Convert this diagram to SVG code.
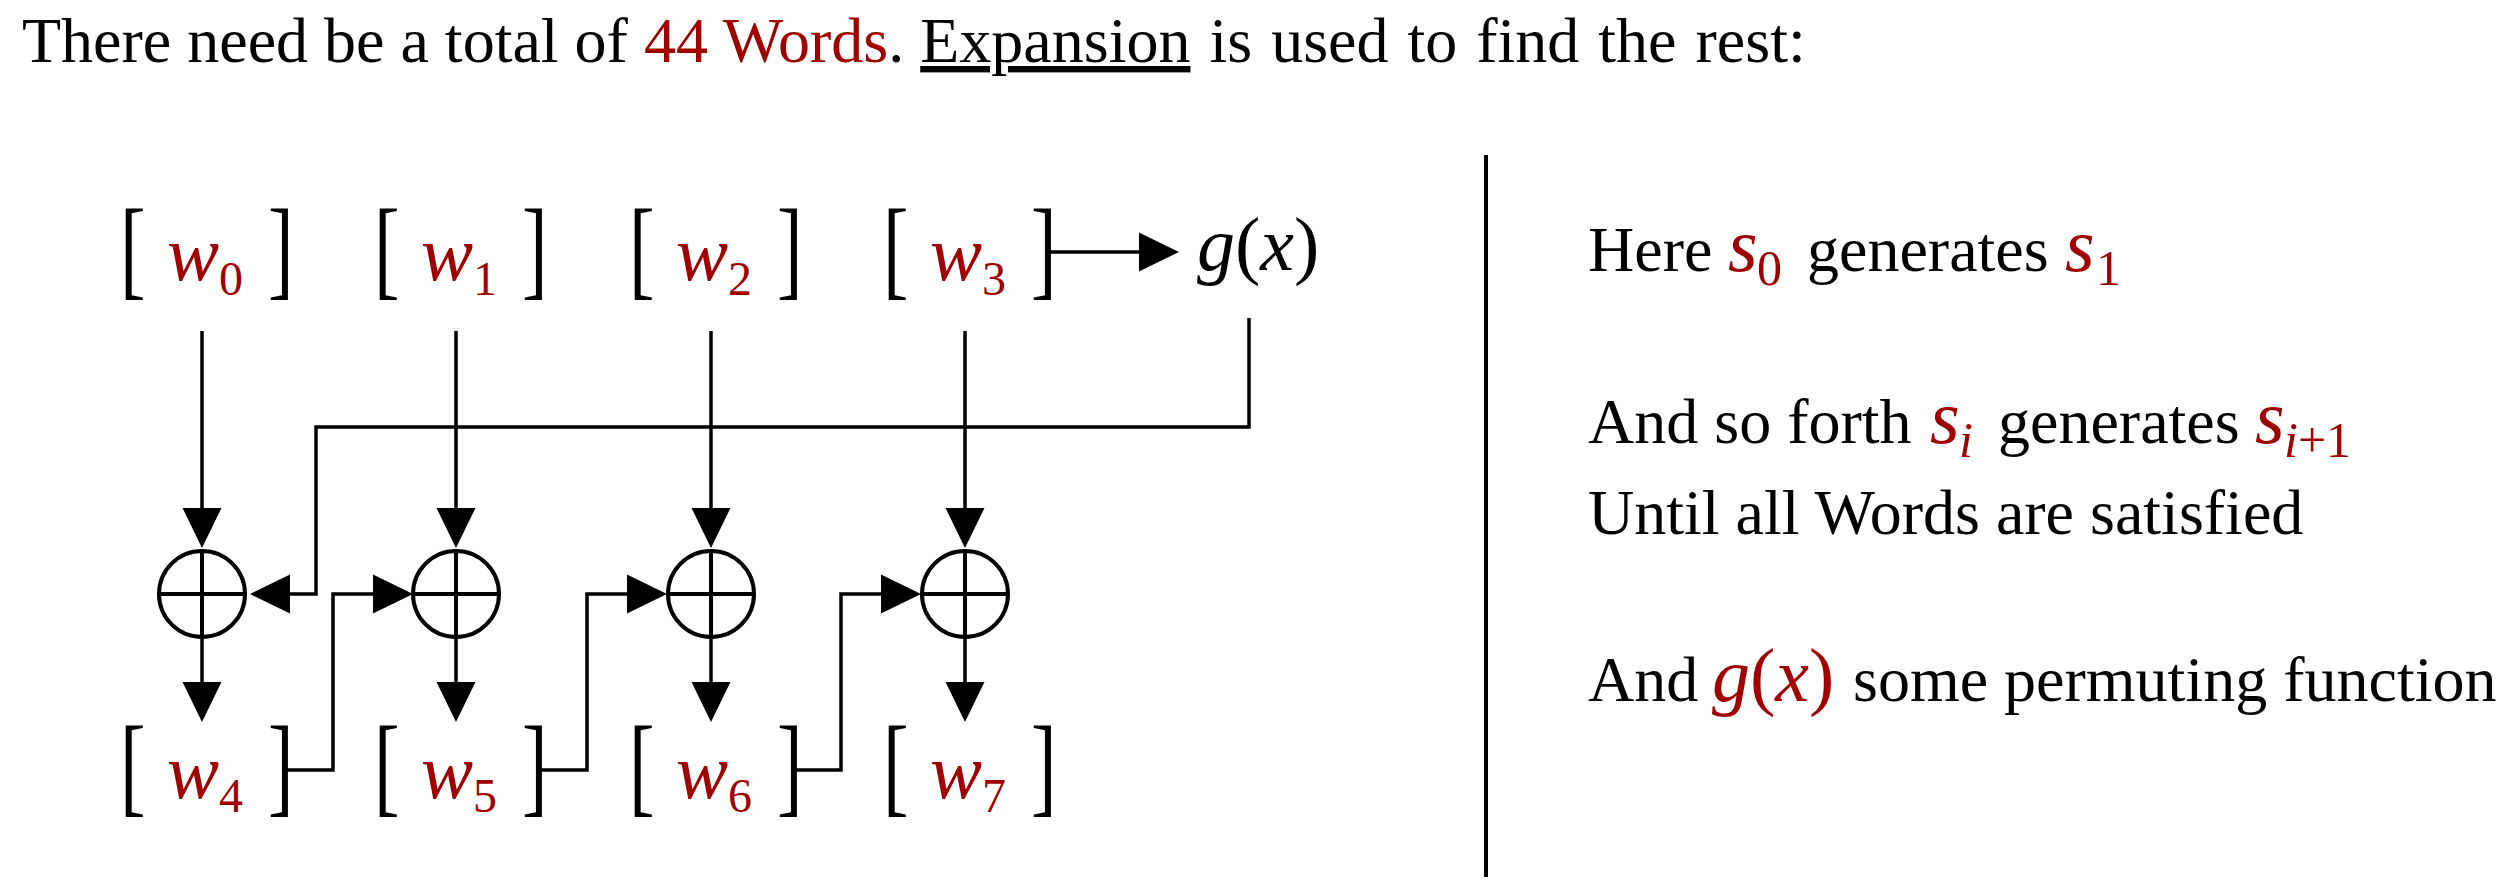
<svg xmlns="http://www.w3.org/2000/svg" width="2510" height="894" viewBox="0 0 2510 894">
<defs>
<style>
.t{font-family:"Liberation Serif",serif;font-size:64px;fill:#000}
.m{font-family:"Liberation Serif",serif;font-style:italic;font-size:76px}
.red{fill:#a00000}
.br{font-family:"Liberation Serif",serif;font-size:110px;fill:#000}
.w{font-family:"Liberation Serif",serif;font-style:italic;font-size:78px;fill:#a00000}
.sub{font-style:normal;font-size:48px}
.sb{font-size:50px}
.ln{fill:none;stroke:#000;stroke-width:3.5}
.xor{fill:none;stroke:#000;stroke-width:4}
</style>
<marker id="ah" markerUnits="userSpaceOnUse" markerWidth="40" markerHeight="40" viewBox="0 0 38 37" refX="0" refY="18.5" orient="auto">
<path d="M0,0 L38,18.5 L0,37 z" fill="#000"/>
</marker>
</defs>
<rect width="2510" height="894" fill="#fff"/>

<g id="title">
<text class="t" x="22" y="62">There need be a total of <tspan class="red">44 Words</tspan>. <tspan text-decoration="underline">Expansion</tspan><tspan word-spacing="3"> is used to find the rest:</tspan></text>
</g>

<g id="w0"><text class="br" transform="translate(120,285) scale(0.7,1)">[</text><text class="w" x="167" y="280">w<tspan class="sub" x="219" y="295">0</tspan></text><text class="br" transform="translate(268,285) scale(0.7,1)">]</text></g>
<g id="w1"><text class="br" transform="translate(374,285) scale(0.7,1)">[</text><text class="w" x="421" y="280">w<tspan class="sub" x="473" y="295">1</tspan></text><text class="br" transform="translate(522,285) scale(0.7,1)">]</text></g>
<g id="w2"><text class="br" transform="translate(629,285) scale(0.7,1)">[</text><text class="w" x="676" y="280">w<tspan class="sub" x="728" y="295">2</tspan></text><text class="br" transform="translate(777,285) scale(0.7,1)">]</text></g>
<g id="w3"><text class="br" transform="translate(883,285) scale(0.7,1)">[</text><text class="w" x="930" y="280">w<tspan class="sub" x="982" y="295">3</tspan></text><text class="br" transform="translate(1031,285) scale(0.7,1)">]</text></g>
<g id="gx"><text class="m" x="1197" y="270">g<tspan font-style="normal">(</tspan>x<tspan font-style="normal">)</tspan></text></g>

<g id="xor0"><circle class="xor" cx="202" cy="594" r="43"/><path class="xor" d="M202,551 V637 M159,594 H245"/></g>
<g id="xor1"><circle class="xor" cx="456" cy="594" r="43"/><path class="xor" d="M456,551 V637 M413,594 H499"/></g>
<g id="xor2"><circle class="xor" cx="711" cy="594" r="43"/><path class="xor" d="M711,551 V637 M668,594 H754"/></g>
<g id="xor3"><circle class="xor" cx="965" cy="594" r="43"/><path class="xor" d="M965,551 V637 M922,594 H1008"/></g>

<g id="w4"><text class="br" transform="translate(120,802) scale(0.7,1)">[</text><text class="w" x="167" y="798">w<tspan class="sub" x="219" y="812">4</tspan></text><text class="br" transform="translate(268,802) scale(0.7,1)">]</text></g>
<g id="w5"><text class="br" transform="translate(374,802) scale(0.7,1)">[</text><text class="w" x="421" y="798">w<tspan class="sub" x="473" y="812">5</tspan></text><text class="br" transform="translate(522,802) scale(0.7,1)">]</text></g>
<g id="w6"><text class="br" transform="translate(629,802) scale(0.7,1)">[</text><text class="w" x="676" y="798">w<tspan class="sub" x="728" y="812">6</tspan></text><text class="br" transform="translate(777,802) scale(0.7,1)">]</text></g>
<g id="w7"><text class="br" transform="translate(883,802) scale(0.7,1)">[</text><text class="w" x="930" y="798">w<tspan class="sub" x="982" y="812">7</tspan></text><text class="br" transform="translate(1031,802) scale(0.7,1)">]</text></g>

<g id="connectors">
<path class="ln" d="M202,331 V508" marker-end="url(#ah)"/>
<path class="ln" d="M456,331 V508" marker-end="url(#ah)"/>
<path class="ln" d="M711,331 V508" marker-end="url(#ah)"/>
<path class="ln" d="M965,331 V508" marker-end="url(#ah)"/>
<path class="ln" d="M1049,252 H1139" marker-end="url(#ah)"/>
<path class="ln" d="M1249,318 V427 H316 V594 H290" marker-end="url(#ah)"/>
<path class="ln" d="M202,639 V682" marker-end="url(#ah)"/>
<path class="ln" d="M456,639 V682" marker-end="url(#ah)"/>
<path class="ln" d="M711,639 V682" marker-end="url(#ah)"/>
<path class="ln" d="M965,639 V682" marker-end="url(#ah)"/>
<path class="ln" d="M285,770 H333 V594 H373" marker-end="url(#ah)"/>
<path class="ln" d="M539,770 H587 V594 H627" marker-end="url(#ah)"/>
<path class="ln" d="M794,770 H841 V594 H881" marker-end="url(#ah)"/>
</g>

<g id="divider"><line x1="1486" y1="155" x2="1486" y2="877" stroke="#000" stroke-width="4"/></g>

<g id="notes">
<text class="t" x="1588" y="271">Here</text>
<text class="m red" x="1728" y="271">s<tspan class="sb" font-style="normal" x="1757" y="285">0</tspan></text>
<text class="t" x="1807" y="271">generates</text>
<text class="m red" x="2065" y="271">s<tspan class="sb" font-style="normal" x="2096" y="285">1</tspan></text>

<text class="t" x="1588" y="443">And so forth</text>
<text class="m red" x="1930" y="443">s<tspan class="sb" x="1959" y="457">i</tspan></text>
<text class="t" x="1998" y="443">generates</text>
<text class="m red" x="2255" y="443">s<tspan class="sb" x="2284" y="457">i<tspan font-style="normal">+1</tspan></tspan></text>

<text class="t" x="1588" y="534">Until all Words are satisfied</text>

<text class="t" x="1588" y="701">And</text>
<text class="m red" x="1712" y="701">g<tspan font-style="normal">(</tspan>x<tspan font-style="normal">)</tspan></text>
<text class="t" x="1853" y="701">some permuting function</text>
</g>
</svg>
